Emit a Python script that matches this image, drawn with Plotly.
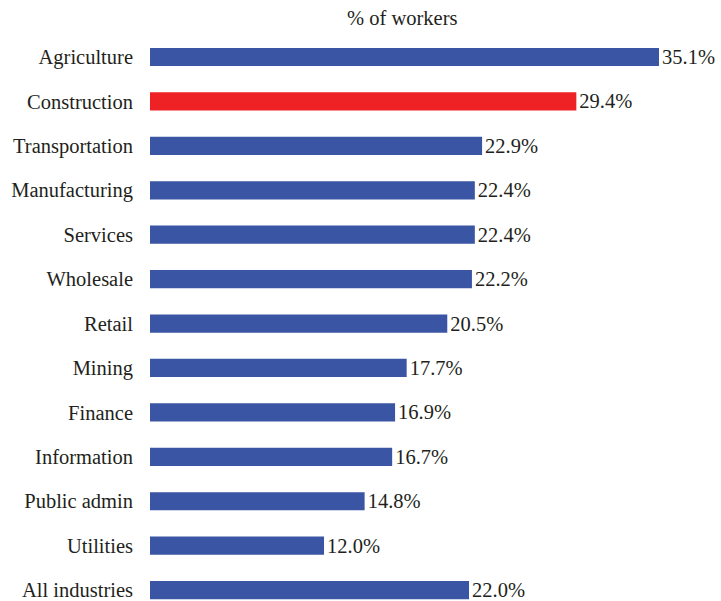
import plotly.graph_objects as go

categories = ["Agriculture", "Construction", "Transportation", "Manufacturing", "Services",
              "Wholesale", "Retail", "Mining", "Finance", "Information", "Public admin",
              "Utilities", "All industries"]
values = [35.1, 29.4, 22.9, 22.4, 22.4, 22.2, 20.5, 17.7, 16.9, 16.7, 14.8, 12.0, 22.0]
labels = [f"{v:.1f}%" for v in values]
colors = ["#EE2225" if c == "Construction" else "#3A55A4" for c in categories]

FONT = "Liberation Serif, Times New Roman, serif"
FS = 20.5

fig = go.Figure(go.Bar(
    y=categories, x=values, orientation="h",
    marker=dict(color=colors, line=dict(width=0)),
    text=labels, textposition="outside", cliponaxis=False, constraintext="none",
    textfont=dict(family=FONT, size=FS, color="#231F20"),
    width=0.41,
))

fig.update_layout(
    width=721, height=601,
    margin=dict(l=150, r=62, t=35, b=0),
    plot_bgcolor="white", paper_bgcolor="white",
    font=dict(family=FONT, size=FS, color="#231F20"),
    showlegend=False,
    xaxis=dict(range=[0, 35.1], visible=False, automargin=False),
    yaxis=dict(categoryorder="array", categoryarray=categories, automargin=False,
               range=[12.245, -0.495], showgrid=False, showline=False,
               ticks="", ticklabelstandoff=16,
               tickfont=dict(family=FONT, size=FS, color="#231F20")),
    annotations=[dict(text="% of workers", x=0.495, y=1, xref="paper", yref="paper",
                      xanchor="center", yanchor="bottom", yshift=4, showarrow=False,
                      font=dict(family=FONT, size=FS, color="#231F20"))],
)

fig.write_html("out.html", config={"displayModeBar": False},
               post_script="document.body.style.margin='0';document.body.style.overflow='hidden';")
